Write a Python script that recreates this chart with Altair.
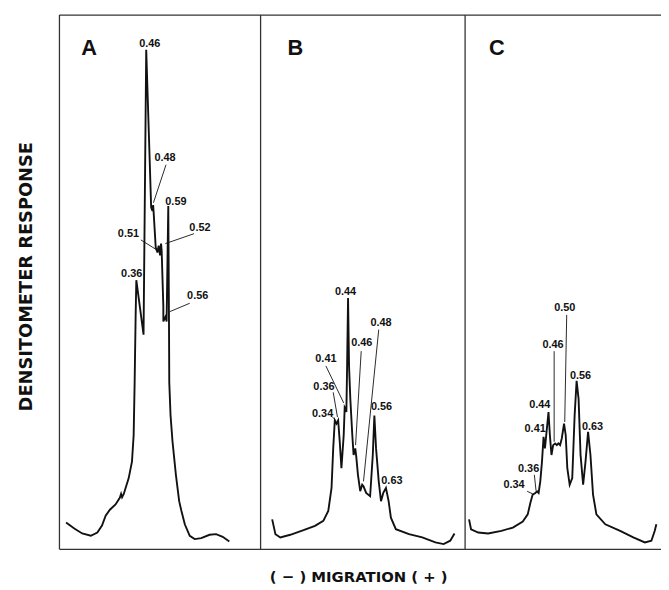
import altair as alt
import pandas as pd

MIG_MAX = 608
RESP_MAX = 540

panels = ["A", "B", "C"]
panel_edges = [0, 203.3, 410]
letter_mig = [30, 238.5, 442]
letter_resp = [507, 507, 507]

a_mig = [6.7, 15, 23, 31.7, 38.3, 43, 46.7, 51, 56.7, 61, 62.3, 63.3, 65, 70, 73.3, 75, 76, 77, 77.7, 85,
         87.7, 92.7, 94, 94.7, 95.3, 97.3, 99, 100.3, 101.7, 102.7, 103.3, 105, 105, 107.3, 108.3, 110, 110.7,
         111, 112.3, 114.3, 117.7, 121, 123.3, 126.7, 131.7, 136.7, 143.3, 151.7, 158.3, 165, 171.7]
a_resp = [27, 21, 16, 13.7, 17, 24, 34, 40, 45.3, 52, 56, 52.7, 56, 72, 88.7, 115.3, 168.7, 235.3, 272, 217,
          505, 345.3, 342, 348, 339, 305.3, 300, 307, 297, 309, 302, 245.3, 230.3, 235.3, 230.3, 347, 232,
          168.7, 135.3, 108.7, 75.3, 48.7, 38.7, 25.3, 13.7, 10.3, 11.3, 14.7, 15.3, 12.7, 8]

b_mig = [215, 218.3, 223.3, 233.3, 246.7, 258.3, 266.7, 271.7, 275, 276.7, 278.3, 280, 281.7, 283.3, 285,
         287.3, 288.3, 289.3, 290, 290.7, 291.7, 292.7, 294, 296, 297.3, 299, 300, 301.7, 304, 306, 307.3,
         310, 314, 316.7, 318.3, 320, 322.7, 325, 327.3, 330, 332.7, 335, 340, 353.3, 366.7, 380, 388.3, 395, 399.3]
b_resp = [30.3, 15.3, 12, 14.7, 19.3, 23.7, 28.7, 38.7, 62, 102, 130.3, 127, 130.3, 108.7, 82, 115.3, 143.7,
          142, 138.7, 182, 254, 185.3, 152, 115.3, 95.3, 102, 93.7, 75.3, 58.7, 65.3, 63.7, 57, 53.7, 95.3,
          135.3, 102, 68.7, 48.7, 57, 62, 48.7, 32, 20.3, 15.3, 12, 7, 5.3, 8.7, 16]

c_mig = [414, 416, 423.3, 433.3, 446.7, 458.3, 468.3, 473.3, 476, 478.3, 481, 482.7, 484.3, 486, 487.7,
         489.3, 490.7, 492, 493.3, 494.3, 495.7, 497.3, 499, 501, 502.7, 504.3, 506, 507.7, 510, 511.7, 513.3,
         515.7, 518.3, 520.7, 522.7, 524.7, 526.7, 529.3, 531.7, 534.3, 536.7, 539.3, 542.7, 551.7, 566.7,
         580, 591.7, 598.3, 601.7, 603.3]
c_resp = [30.3, 20.3, 17, 16, 18.7, 22, 28, 35.3, 47, 55.3, 57, 58.7, 57, 68.7, 88.7, 113.7, 102, 115.3,
          128.7, 138.7, 115.3, 95.3, 105.3, 107, 105.3, 107, 105.3, 112, 127, 115.3, 82, 65.3, 72, 135.3,
          170.3, 152, 95.3, 65.3, 88.7, 118.7, 95.3, 55.3, 35.3, 25.3, 18.7, 12, 7, 8.7, 18.7, 25.3]

lab_text = ["0.46", "0.48", "0.59", "0.52", "0.51", "0.36", "0.56",
            "0.44", "0.48", "0.46", "0.41", "0.36", "0.34", "0.56", "0.63",
            "0.50", "0.46", "0.56", "0.44", "0.41", "0.63", "0.36", "0.34"]
lab_mig = [91.3, 106.7, 117.7, 142, 69.7, 73, 139.7,
           289.2, 325, 305.5, 269.3, 267.3, 266, 325.5, 336,
           510.8, 498.8, 526.7, 485.5, 480.8, 538.8, 474.2, 459.5]
lab_resp = [511, 395.3, 351.5, 325, 319, 278, 256,
            260, 229, 209, 192, 164.3, 136.7, 143.7, 69,
            244, 206.7, 175.3, 145.8, 121.5, 124, 81.2, 64.8]

ld_mig1 = [107.7, 136, 82.3, 131.7, 322.7, 305, 269.3, 276.7, 276, 512.7, 500, 480, 472.7]
ld_resp1 = [388.7, 319, 312.7, 248.7, 222, 200.3, 185.3, 158.7, 133.7, 237, 200.3, 75.3, 58.7]
ld_mig2 = [95, 107, 98.3, 111.7, 307.3, 299.3, 287.3, 281, 279.3, 510.7, 500, 481.7, 478.3]
ld_resp2 = [350.3, 309, 302.7, 240.3, 68.7, 105.3, 148, 133.7, 130.3, 128.7, 108.7, 59.3, 56]

rows = []
for p, xs, ys in zip(panels, [a_mig, b_mig, c_mig], [a_resp, b_resp, c_resp]):
    for i, (xv, yv) in enumerate(zip(xs, ys)):
        rows.append({"panel": p, "i": i, "mig": xv, "resp": yv})
trace_df = pd.DataFrame(rows)
labels_df = pd.DataFrame({"text": lab_text, "mig": lab_mig, "resp": lab_resp})
leaders_df = pd.DataFrame({"mig": ld_mig1, "resp": ld_resp1, "mig2": ld_mig2, "resp2": ld_resp2})
letters_df = pd.DataFrame({"text": panels, "mig": letter_mig, "resp": letter_resp})
vrule_df = pd.DataFrame({"mig": panel_edges, "lo": [0] * 3, "hi": [RESP_MAX] * 3})
hrule_df = pd.DataFrame({"resp": [0, RESP_MAX], "lo": [0, 0], "hi": [MIG_MAX, MIG_MAX]})

x_scale = alt.Scale(domain=[0, MIG_MAX], nice=False, zero=False)
y_scale = alt.Scale(domain=[0, RESP_MAX], nice=False, zero=False)
x_axis = alt.Axis(title="( − ) MIGRATION ( + )", labels=False, ticks=False, domain=False, grid=False,
                  titleFont="DejaVu Sans", titleFontSize=15, titleFontWeight="bold", titleColor="#111",
                  titleX=302, titleY=28, titleBaseline="middle", titleAlign="center")
y_axis = alt.Axis(title="DENSITOMETER RESPONSE", labels=False, ticks=False, domain=False, grid=False,
                  titleFont="DejaVu Sans", titleFontSize=18, titleFontWeight="bold", titleColor="#111",
                  titleAngle=270, titleX=-33, titleY=264, titleBaseline="middle", titleAlign="center")


def X(field):
    return alt.X(field, type="quantitative", scale=x_scale, axis=x_axis)


def Y(field):
    return alt.Y(field, type="quantitative", scale=y_scale, axis=y_axis)


frame_v = alt.Chart(vrule_df).mark_rule(color="#333", strokeWidth=1.3).encode(
    x=X("mig"), y=Y("lo"), y2="hi")
frame_h = alt.Chart(hrule_df).mark_rule(color="#333", strokeWidth=1.3).encode(
    y=Y("resp"), x=X("lo"), x2="hi")

traces = alt.Chart(trace_df).mark_line(color="#111", strokeWidth=1.9, strokeJoin="miter").encode(
    x=X("mig"), y=Y("resp"), detail="panel:N", order="i:Q")

leaders = alt.Chart(leaders_df).mark_rule(color="#111", strokeWidth=0.9).encode(
    x=X("mig"), y=Y("resp"), x2="mig2", y2="resp2")

labels = alt.Chart(labels_df).mark_text(font="Liberation Sans", fontSize=11, fontWeight="bold",
                                        color="#111", align="center", baseline="middle").encode(
    x=X("mig"), y=Y("resp"), text="text:N")

letters = alt.Chart(letters_df).mark_text(font="Liberation Sans", fontSize=22, fontWeight="bold",
                                          color="#111", align="center", baseline="middle").encode(
    x=X("mig"), y=Y("resp"), text="text:N")

chart = alt.layer(frame_v, frame_h, traces, leaders, labels, letters).properties(
    width=MIG_MAX, height=RESP_MAX,
    padding={"left": 52, "top": 4, "right": 0, "bottom": 38},
    autosize=alt.AutoSizeParams(type="none"),
    background="white",
).configure_view(strokeWidth=0)

chart.save("out.html", embed_options={"renderer": "svg", "actions": False})
